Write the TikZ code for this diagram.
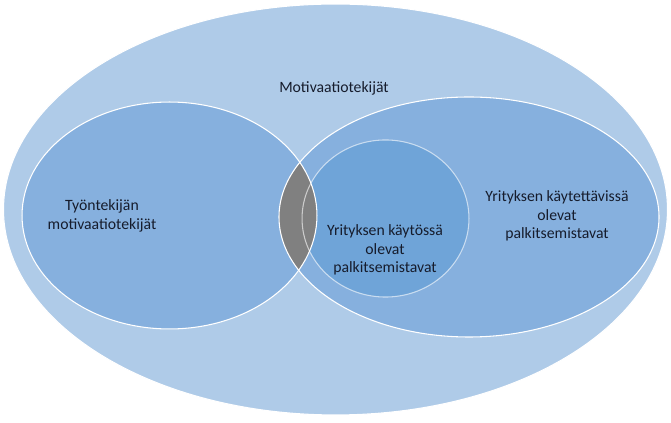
\documentclass[tikz,border=0pt]{standalone}
\usepackage{fontspec}
\setmainfont{Carlito}
\definecolor{outerblue}{RGB}{175,203,232}
\definecolor{setblue}{RGB}{134,176,222}
\definecolor{innerblue}{RGB}{111,164,216}
\definecolor{lensgrey}{RGB}{128,128,128}
\definecolor{labeltext}{RGB}{22,28,44}
\tikzset{
    setline/.style={draw=white, line width=0.8pt},
    setlabel/.style={align=center, font=\fontsize{11.8}{13.7}\selectfont, text=labeltext, inner sep=1pt}
}
\begin{document}
\begin{tikzpicture}[x=0.75pt, y=-0.75pt]
    \useasboundingbox (0,0) rectangle (671,423);
    % set areas
    \fill[outerblue] (335.5,209.5) ellipse [x radius=249pt, y radius=154.1pt];
    \fill[setblue] (169.5,215.5) ellipse [x radius=110.6pt, y radius=85.1pt];
    \fill[setblue] (469,217) ellipse [x radius=142.5pt, y radius=90pt];
    \fill[innerblue] (385.5,218.5) ellipse [x radius=62.6pt, y radius=58.9pt];
    % overlap of the two sets
    \begin{scope}
        \clip (169.5,215.5) ellipse [x radius=110.6pt, y radius=85.1pt];
        \fill[lensgrey] (469,217) ellipse [x radius=142.5pt, y radius=90pt];
    \end{scope}
    % outlines
    \draw[setline] (335.5,209.5) ellipse [x radius=249pt, y radius=154.1pt];
    \draw[setline] (169.5,215.5) ellipse [x radius=110.6pt, y radius=85.1pt];
    \draw[setline] (469,217) ellipse [x radius=142.5pt, y radius=90pt];
    \draw[setline, draw opacity=0.6] (385.5,218.5) ellipse [x radius=62.6pt, y radius=58.9pt];
    % labels
    \node[setlabel] (motivation) at (334,88) {Motivaatiotekijät};
    \node[setlabel] (employee) at (102,216) {Työntekijän\\motivaatiotekijät};
    \node[setlabel] (inuse) at (385,250) {Yrityksen käytössä\\olevat\\palkitsemistavat};
    \node[setlabel] (available) at (557,216) {Yrityksen käytettävissä\\olevat\\palkitsemistavat};
\end{tikzpicture}
\end{document}
